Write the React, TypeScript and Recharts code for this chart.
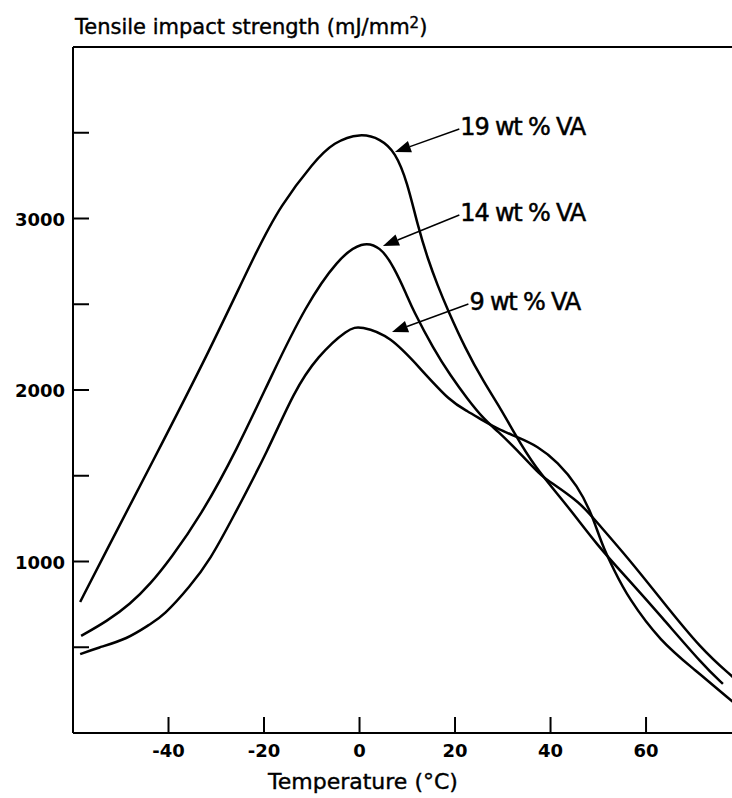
import React from 'react';
import { LineChart, Line, XAxis, YAxis, ReferenceLine } from 'recharts';

// temperature (°C) / tensile impact strength
const temp19 = [-58.5, -53.9, -43.8, -31.2, -21.4, -16.6, -9.6, -5.4, 0.2, 4.4, 7.5, 10, 12.2, 14.3, 16.4, 18.4, 22.2, 26, 29.6, 32.3, 36.5, 43.6, 49.9, 56.2, 63.1, 72.1, 76.1];
const strength19 = [764, 1015, 1557, 2239, 2822, 3073, 3330, 3446, 3499, 3464, 3388, 3213, 2956, 2764, 2606, 2472, 2239, 2047, 1889, 1755, 1557, 1324, 1090, 898, 682, 391, 286];

const temp14 = [-58.3, -52.8, -48, -43.8, -39.6, -33.3, -25.8, -18, -11.3, -4.6, 0.6, 4.4, 7.1, 10, 11.1, 15.5, 19.1, 22.6, 26, 28.9, 33, 38, 40, 46.3, 49.1, 56.4, 63.1, 71.5, 78.2];
const strength14 = [566, 653, 752, 869, 1015, 1265, 1644, 2110, 2490, 2764, 2869, 2834, 2723, 2548, 2472, 2239, 2082, 1948, 1831, 1761, 1650, 1499, 1463, 1340, 1248, 1015, 781, 490, 326];

const temp9 = [-58.5, -54.9, -48.6, -43.8, -41.1, -35.4, -31.2, -27, -19, -13.8, -8.8, -2.3, 0.2, 6.5, 12.8, 19.1, 22.6, 26, 28.9, 33, 37.3, 41.5, 45.7, 48.4, 49.9, 51.2, 53.2, 56.2, 63.1, 70, 78.2];
const strength9 = [460, 496, 548, 636, 682, 857, 1015, 1230, 1656, 1988, 2198, 2361, 2373, 2315, 2122, 1930, 1877, 1819, 1773, 1726, 1673, 1580, 1440, 1289, 1172, 1073, 956, 790, 531, 373, 181];

const xTicks = [-40, -20, 0, 20, 40, 60];
const yTicks = [500, 1000, 1500, 2000, 2500, 3000, 3500];
const yLabelled = [1000, 2000, 3000];

const seriesNames = ['19 wt % VA', '14 wt % VA', '9 wt % VA'];
// arrow from the label to the curve, in chart units
const arrowFrom = [{ t: 20.9, v: 3522 }, { t: 20.9, v: 3020 }, { t: 22.8, v: 2501 }];
const arrowTo = [{ t: 7.4, v: 3388 }, { t: 4.9, v: 2840 }, { t: 6.8, v: 2338 }];

const toPoints = (t: number[], v: number[]) => t.map((x, i) => ({ t: x, v: v[i] }));

const font = '"DejaVu Sans", sans-serif';

const XTick = (props: any) => {
  const { x, y, payload } = props;
  return (
    <g>
      <line x1={x} x2={x} y1={y} y2={y - 16} stroke="#000" strokeWidth={2} />
      <text x={x} y={y + 24} textAnchor="middle" fontFamily={font} fontWeight="bold" fontSize={18} fill="#000">
        {payload.value}
      </text>
    </g>
  );
};

const YTick = (props: any) => {
  const { x, y, payload } = props;
  return (
    <g>
      <line x1={x} x2={x + 16} y1={y} y2={y} stroke="#000" strokeWidth={2} />
      {yLabelled.includes(payload.value) && (
        <text x={x - 8} y={y + 7} textAnchor="end" fontFamily={font} fontWeight="bold" fontSize={18} fill="#000">
          {payload.value}
        </text>
      )}
    </g>
  );
};

const arrowShape = (name: string) => (p: any) => {
  const { x1, y1, x2, y2 } = p;
  const a = Math.atan2(y2 - y1, x2 - x1);
  const len = 16;
  const w = 6;
  const bx = x2 - len * Math.cos(a);
  const by = y2 - len * Math.sin(a);
  const nx = -Math.sin(a) * w;
  const ny = Math.cos(a) * w;
  return (
    <g>
      <line x1={x1} y1={y1} x2={bx} y2={by} stroke="#000" strokeWidth={1.5} />
      <polygon points={`${x2},${y2} ${bx + nx},${by + ny} ${bx - nx},${by - ny}`} fill="#000" />
      <text x={x1 + 1} y={y1 + 6} fontFamily={font} fontSize={24} fill="#000" stroke="#000" strokeWidth={0.5} letterSpacing={-1.2}>
        {name}
      </text>
    </g>
  );
};

const App = () => {
  const data19 = toPoints(temp19, strength19);
  const data14 = toPoints(temp14, strength14);
  const data9 = toPoints(temp9, strength9);

  return (
    <div style={{ position: 'absolute', left: 0, top: 0, background: '#fff' }}>
      <LineChart width={732} height={798} margin={{ top: 47, right: 0, bottom: 0, left: 0 }}>
        <XAxis
          type="number"
          dataKey="t"
          domain={[-60, 78]}
          ticks={xTicks}
          allowDataOverflow
          height={65}
          tickSize={0}
          tickMargin={0}
          tickLine={false}
          tick={XTick}
          axisLine={{ stroke: '#000', strokeWidth: 2 }}
          label={{
            content: (lp: any) => {
              const vb = lp.viewBox;
              return (
                <text x={vb.x + 290} y={vb.y + vb.height - 9} textAnchor="middle" fontFamily={font} fontSize={22} fill="#000" stroke="#000" strokeWidth={0.4}>
                  Temperature (°C)
                </text>
              );
            },
          }}
        />
        <YAxis
          type="number"
          dataKey="v"
          domain={[0, 4000]}
          ticks={yTicks}
          allowDataOverflow
          width={73}
          tickSize={0}
          tickMargin={0}
          tickLine={false}
          tick={YTick}
          axisLine={{ stroke: '#000', strokeWidth: 2 }}
          label={{
            content: (lp: any) => {
              const vb = lp.viewBox;
              return (
                <text x={vb.x + vb.width + 2} y={vb.y - 13} fontFamily={font} fontSize={21} fill="#000" stroke="#000" strokeWidth={0.4}>
                  Tensile impact strength (mJ/mm<tspan fontSize={15} dy={-6}>2</tspan><tspan dy={6}>)</tspan>
                </text>
              );
            },
          }}
        />
        <ReferenceLine y={4000} stroke="#000" strokeWidth={2} />
        <Line data={data19} dataKey="v" type="basis" stroke="#000" strokeWidth={2.5} dot={false} isAnimationActive={false} />
        <Line data={data14} dataKey="v" type="basis" stroke="#000" strokeWidth={2.5} dot={false} isAnimationActive={false} />
        <Line data={data9} dataKey="v" type="basis" stroke="#000" strokeWidth={2.5} dot={false} isAnimationActive={false} />
        {seriesNames.map((name, i) => (
          <ReferenceLine
            key={name}
            segment={[
              { x: arrowFrom[i].t, y: arrowFrom[i].v },
              { x: arrowTo[i].t, y: arrowTo[i].v },
            ]}
            shape={arrowShape(name)}
          />
        ))}
      </LineChart>
    </div>
  );
};

export default App;
